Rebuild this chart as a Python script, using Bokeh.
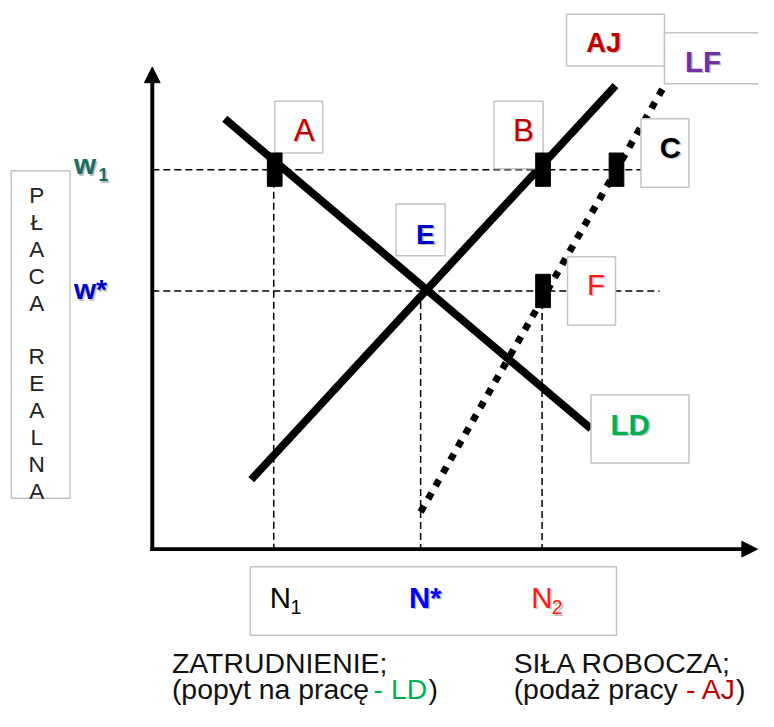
from bokeh.plotting import figure
from bokeh.models import Range1d, Arrow, NormalHead
from bokeh.core.properties import value
from bokeh.embed import file_html
from bokeh.resources import INLINE

# ---------------- data (employment N on x, real wage w on y) ----------------
wage_names = ["w1", "w*"]
wage_values = [388, 264]
emp_names = ["N1", "N*", "N2"]
emp_values = [124, 274, 398]

LD_N = [74, 448]          # labour demand
LD_W = [440, 123]
AJ_N = [101, 473]         # labour supply (AJ)
AJ_W = [71, 474]
LF_N = [274, 523]         # labour force (LF)
LF_W = [38, 474]

marker_names = ["A", "B", "C", "F"]
marker_N = [125, 399, 474, 399]
marker_W = [388, 388, 388, 264]

ylabel_chars = ["P", "Ł", "A", "C", "A", "", "R", "E", "A", "L", "N", "A"]

# ---------------- layout ----------------
FIG_W, FIG_H = 758, 711
S = FIG_W / 774.0            # pixel scale of the drawing
BASE_FIX = 0.33              # baseline correction (em)
FONT = value("Liberation Sans")
p = figure(width=FIG_W, height=FIG_H, x_range=Range1d(-155, 619), y_range=Range1d(-166, 561),
           output_backend="svg", toolbar_location=None, min_border=0,
           x_axis_type=None, y_axis_type=None)
p.grid.visible = False
p.outline_line_color = None
p.background_fill_color = "white"
p.border_fill_color = "white"

W1, WS = wage_values
N1, NS, N2 = emp_values

# dashed guides
p.segment(x0=[0, 0, N1, NS, N2], y0=[W1, WS, W1, WS, WS],
          x1=[500, 518, N1, NS, N2], y1=[W1, WS, 0, 0, 0],
          line_color="black", line_width=1.5, line_dash="7 4")

# curves
p.line(LD_N, LD_W, line_color="black", line_width=8 * S)
p.line(AJ_N, AJ_W, line_color="black", line_width=8 * S)
p.line(LF_N, LF_W, line_color="black", line_width=7 * S, line_dash="7 8")

# axes with arrows
p.add_layout(Arrow(end=NormalHead(size=16 * S, fill_color="black", line_color="black", line_width=1),
                   x_start=0, y_start=-2, x_end=0, y_end=493,
                   line_color="black", line_width=4 * S))
p.add_layout(Arrow(end=NormalHead(size=16 * S, fill_color="black", line_color="black", line_width=1),
                   x_start=-2, y_start=0, x_end=618, y_end=0,
                   line_color="black", line_width=4 * S))

# label boxes: left, right, top, bottom
boxes_left = [-144, 125, 349, 499, 249, 424, 423, 523, 448, 100]
boxes_right = [-84, 174, 399, 548, 299, 473, 523, 640, 548, 474]
boxes_top = [387, 458, 458, 440, 353, 299, 547, 528, 158, -18]
boxes_bottom = [52, 405, 389, 370, 300, 229, 494, 476, 88, -88]
p.quad(left=boxes_left, right=boxes_right, top=boxes_top, bottom=boxes_bottom,
       fill_color="white", line_color="#c4c4c4", line_width=1.5)

# point markers
p.rect(x=marker_N, y=marker_W, width=15 * S, height=34 * S, width_units="screen",
       height_units="screen", fill_color="black", line_color="black")


def label(x, y, txt, size, color, bold=False, align="left", shadow=False):
    style = "bold" if bold else "normal"
    fs = f"{size * S:.1f}px"
    y = y + BASE_FIX * size
    if shadow:
        p.text(x=[x + 1.6], y=[y - 1.6], text=[txt], text_font=FONT,
               text_font_size=fs, text_font_style=style,
               text_color="#8c8c8c", text_alpha=0.55, text_align=align,
               text_baseline="alphabetic")
    p.text(x=[x], y=[y], text=[txt], text_font=FONT, text_font_size=fs,
           text_font_style=style, text_color=color, text_align=align,
           text_baseline="alphabetic")


# vertical axis title
p.text(x=[-118] * len(ylabel_chars),
       y=[354 + BASE_FIX * 23 - i * 27.5 for i in range(len(ylabel_chars))],
       text=ylabel_chars, text_font=FONT, text_font_size=f"{23 * S:.1f}px", text_color="#222222",
       text_align="center", text_baseline="alphabetic")

# wage labels
label(-80, 384, "w", 29, "#1b6b5f", bold=True, shadow=True)
label(-55, 377, "1", 18, "#1b6b5f", bold=True, shadow=True)
label(-80, 256, "w*", 29, "#0000cc", bold=True, shadow=True)

# point labels
label(155, 418, "A", 32, "#c00000", align="center", shadow=True)
label(379, 418, "B", 32, "#c00000", align="center", shadow=True)
label(529, 401, "C", 30, "#000000", bold=True, align="center", shadow=True)
label(279, 313, "E", 29, "#0000cc", bold=True, align="center", shadow=True)
label(453, 261, "F", 30, "#ff1a1a", align="center", shadow=True)

# curve labels
label(443, 509, "AJ", 28, "#c00000", bold=True, shadow=True)
label(544, 489, "LF", 30, "#7030a0", bold=True, shadow=True)
label(468, 118, "LD", 30, "#00b050", bold=True, shadow=True)

# employment labels
label(120, -59, "N", 30, "#000000")
label(141, -66, "1", 20, "#000000")
label(262, -59, "N*", 30, "#0000ff", bold=True, shadow=True)
label(387, -59, "N", 30, "#ff1a1a", shadow=True)
label(408, -66, "2", 20, "#ff1a1a", shadow=True)

# bottom captions
label(20, -126, "ZATRUDNIENIE;", 29, "#111111")
label(20, -153, "(popyt na pracę ", 29, "#111111")
label(226, -153, "- LD", 29, "#00b050")
label(282, -153, ")", 29, "#111111")
label(369, -126, "SIŁA ROBOCZA;", 29, "#111111")
label(369, -153, "(podaż pracy ", 29, "#111111")
label(545, -153, "- AJ", 29, "#c00000")
label(596, -153, ")", 29, "#111111")

open("out.html", "w").write(file_html(p, INLINE))
